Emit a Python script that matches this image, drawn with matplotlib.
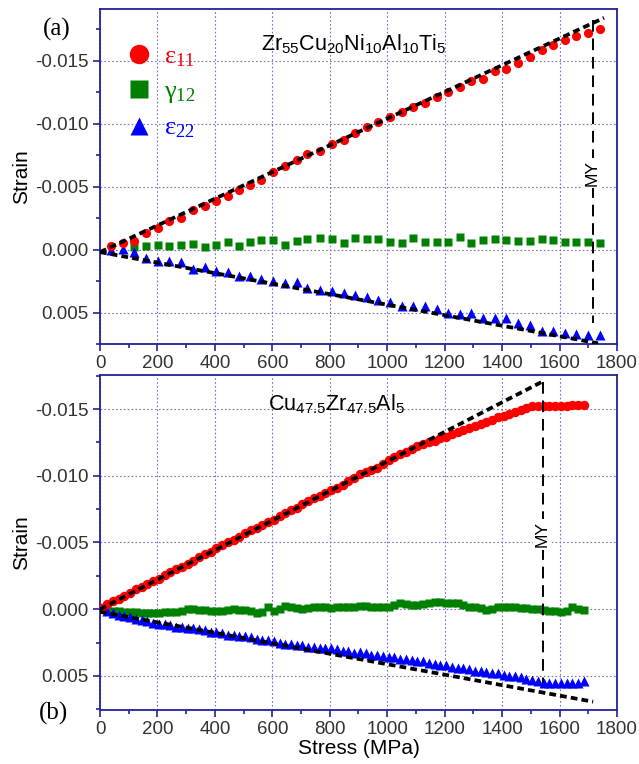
"""Strain vs stress for two metallic glasses, panels (a) and (b)."""
import matplotlib
matplotlib.use("Agg")
import matplotlib.pyplot as plt
from matplotlib.lines import Line2D
from matplotlib.ticker import MultipleLocator, FormatStrFormatter

plt.rcParams["font.family"] = ["Liberation Sans", "DejaVu Sans"]
plt.rcParams["mathtext.default"] = "regular"
plt.rcParams["axes.unicode_minus"] = False

# ---------------- panel (a): Zr55Cu20Ni10Al10Ti5 ----------------
stress_a = [38, 79, 119, 160, 201, 241, 282, 323, 366, 404, 444, 485, 522,
            561, 604, 644, 685, 720, 767, 807, 848, 888, 929, 969, 1010,
            1050, 1091, 1131, 1172, 1212, 1253, 1293, 1334, 1374, 1415,
            1455, 1497, 1538, 1578, 1619, 1659, 1700, 1741]
e11_a = [-0.00026, -0.0005, -0.00066, -0.00133, -0.0017, -0.00223, -0.0025,
         -0.00311, -0.00343, -0.00383, -0.00423, -0.0047, -0.0051, -0.0055,
         -0.00617, -0.00664, -0.0071, -0.00755, -0.00784, -0.00838, -0.0087,
         -0.00923, -0.00976, -0.01016, -0.01055, -0.01095, -0.01135,
         -0.01167, -0.01215, -0.01255, -0.0129, -0.01335, -0.01356,
         -0.01415, -0.01434, -0.01482, -0.0153, -0.01588, -0.01627,
         -0.01667, -0.01694, -0.01721, -0.01753]
g12_a = [None, None, -0.0002, -0.00026, -0.0004, -0.00026, -0.0004,
         -0.00045, -0.00018, -0.0004, -0.00064, -0.00026, -0.0006, -0.00077,
         -0.00074, -0.00035, -0.00068, -0.00082, -0.00093, -0.0008,
         -0.00053, -0.00093, -0.0008, -0.0008, -0.00064, -0.0005, -0.00093,
         -0.00058, -0.00064, -0.00058, -0.00098, -0.0005, -0.00077,
         -0.00085, -0.00077, -0.00072, -0.00072, -0.0008, -0.00074,
         -0.00064, -0.0006, -0.00058, -0.0005]
e22_a = [0.0, -0.00005, 0.00016, 0.00066, 0.00088, 0.00088, 0.00096,
         0.00154, 0.00136, 0.00173, 0.00181, 0.00213, 0.00213, 0.00234,
         0.00247, 0.00269, 0.0026, 0.00306, 0.00319, 0.00327, 0.00341,
         0.00361, 0.00373, 0.00399, 0.0042, 0.00447, 0.00452, 0.00452,
         0.00473, 0.005, 0.00513, 0.00505, 0.0054, 0.0054, 0.00545, 0.0058,
         0.00598, 0.00646, 0.00646, 0.0066, 0.00668, 0.00678, 0.00678]
fit11_a = ([0, 1755], [0.0002, -0.0184])
fit22_a = ([0, 1734], [0.0002, 0.00744])
my_a = ([1715, 1715], [-0.0182, 0.0058])
my_text_a = -0.0061

# ---------------- panel (b): Cu47.5Zr47.5Al5 ----------------
stress_b = [5, 25, 45, 65, 85, 105, 125, 145, 165, 185, 205, 225, 245, 265,
            285, 305, 325, 345, 365, 385, 405, 425, 445, 465, 485, 505, 525,
            545, 565, 585, 605, 625, 645, 665, 685, 705, 725, 745, 765, 785,
            805, 825, 845, 865, 885, 905, 925, 945, 965, 985, 1005, 1025,
            1045, 1065, 1085, 1105, 1125, 1145, 1165, 1185, 1205, 1225, 1245,
            1265, 1285, 1305, 1325, 1345, 1365, 1385, 1405, 1425, 1445, 1465,
            1485, 1505, 1525, 1545, 1565, 1585, 1605, 1625, 1645, 1665, 1685]
e11_b = [-0.0001, -0.0004, -0.0006, -0.0008, -0.0010, -0.0012, -0.0015,
         -0.0017, -0.0019, -0.0021, -0.0023, -0.0026, -0.0028, -0.0030,
         -0.0032, -0.0034, -0.0036, -0.0039, -0.0041, -0.0043, -0.0046,
         -0.0048, -0.0050, -0.0052, -0.0054, -0.0057, -0.0059, -0.0061,
         -0.0063, -0.0065, -0.0067, -0.0070, -0.0072, -0.0074, -0.0076,
         -0.0079, -0.0081, -0.0083, -0.0085, -0.0087, -0.0089, -0.0091,
         -0.0093, -0.0096, -0.0098, -0.0101, -0.0103, -0.0104, -0.0106,
         -0.0109, -0.0112, -0.0114, -0.0116, -0.0118, -0.0120, -0.0122,
         -0.0124, -0.0125, -0.0126, -0.0128, -0.0129, -0.0131, -0.0133,
         -0.0134, -0.0136, -0.0137, -0.0139, -0.0140, -0.0142, -0.0144,
         -0.0145, -0.0146, -0.0148, -0.0149, -0.0151, -0.0152, -0.0152,
         -0.0152, -0.0152, -0.0152, -0.0152, -0.0152, -0.0153, -0.0153,
         -0.0153]
g12_b = [-0.0001, 0.0, 0.0001, 0.0001, 0.0002, 0.0002, 0.0002, 0.00025,
         0.00025, 0.00025, 0.00025, 0.0002, 0.0002, 0.0002, 0.00015, 0.0,
         0.0, 0.00005, 0.00005, 0.0001, 0.0001, 0.0001, 0.00005, 0.0,
         0.00005, 0.00005, 0.0001, 0.00025, 0.0002, -0.00015, 0.00013, 0.0,
         -0.00025, -0.0002, -0.0001, 0.0, -0.0001, -0.0002, -0.0002,
         -0.00015, -0.00012, -0.00015, -0.0002, -0.0002, -0.0002, -0.00025,
         -0.00025, -0.0002, -0.00015, -0.00015, -0.0002, -0.0003, -0.00045,
         -0.0004, -0.0003, -0.0003, -0.0004, -0.0005, -0.00057, -0.00055,
         -0.0005, -0.00045, -0.00045, -0.0003, -0.0002, -0.0002, -0.0001,
         0.00005, 0.0, -0.0002, -0.0002, -0.0002, -0.00015, -0.0001,
         -0.0001, -0.00005, 0.0, 0.00005, 0.0001, 0.00015, 0.0002, 0.0001,
         -0.0002, 0.0, 0.00005]
e22_b = [-0.0001, 0.0001, 0.0003, 0.0004, 0.0005, 0.0006, 0.0007, 0.0008,
         0.0009, 0.0010, 0.0011, 0.0011, 0.0012, 0.0013, 0.0013, 0.0014,
         0.0014, 0.0015, 0.00155, 0.0017, 0.0017, 0.0018, 0.0019, 0.0019,
         0.0020, 0.0020, 0.0021, 0.0022, 0.0023, 0.0023, 0.0024, 0.00255,
         0.0026, 0.0026, 0.0027, 0.0027, 0.0028, 0.0028, 0.0029, 0.0029,
         0.0029, 0.0030, 0.0031, 0.0031, 0.0033, 0.0032, 0.0033, 0.0034,
         0.0034, 0.0035, 0.00355, 0.0036, 0.0037, 0.0037, 0.0038, 0.0039,
         0.0039, 0.0040, 0.0041, 0.00418, 0.0042, 0.0043, 0.0044, 0.0044,
         0.0045, 0.0046, 0.0046, 0.00468, 0.0048, 0.0048, 0.0049, 0.0050,
         0.0050, 0.00505, 0.0052, 0.0053, 0.0054, 0.0055, 0.0055, 0.0055,
         0.0055, 0.0055, 0.0055, 0.0055, 0.0054]
fit11_b = ([0, 1541], [0.0, -0.01706])
fit22_b = ([0, 1717], [0.0002, 0.00693])
my_b = ([1541, 1541], [-0.01706, 0.0055])
my_text_b = -0.0056

titles = [r"Zr$_{55}$Cu$_{20}$Ni$_{10}$Al$_{10}$Ti$_{5}$",
          r"Cu$_{47.5}$Zr$_{47.5}$Al$_{5}$"]
panel_tags = ["(a)", "(b)"]
legend_labels = [r"ε$_{11}$", r"γ$_{12}$", r"ε$_{22}$"]

NAVY = "#22229a"
GRID = "#7474b4"
TICKTXT = "#333333"
RED, GREEN, BLUE = "#ff0000", "#008000", "#0000ff"


def style_axes(ax, ylim):
    ax.set_xlim(0, 1800)
    ax.set_ylim(*ylim)
    ax.xaxis.set_major_locator(MultipleLocator(200))
    ax.xaxis.set_minor_locator(MultipleLocator(100))
    ax.yaxis.set_major_locator(MultipleLocator(0.005))
    ax.yaxis.set_minor_locator(MultipleLocator(0.0025))
    ax.yaxis.set_major_formatter(FormatStrFormatter("%.3f"))
    ax.grid(True, which="major", color=GRID, linestyle=(0, (1.5, 2)),
            linewidth=0.8)
    ax.set_axisbelow(True)
    for sp in ax.spines.values():
        sp.set_color(NAVY)
        sp.set_linewidth(1.3)
    ax.tick_params(which="major", direction="out", length=5, width=1.2,
                   color=NAVY, labelcolor=TICKTXT, labelsize=13.5, pad=3)
    ax.tick_params(which="minor", direction="out", length=3, width=1.2,
                   color=NAVY)
    ax.set_ylabel("Strain", fontsize=15, labelpad=3)


def draw_panel(ax, stress, e11, g12, e22, fit11, fit22, my, my_text,
               ms_c, ms_s, ms_t):
    gx = [s for s, g in zip(stress, g12) if g is not None]
    gy = [g for g in g12 if g is not None]
    ax.plot(gx, gy, "s", color=GREEN, ms=ms_s, mec="none", zorder=3)
    ax.plot(stress, e22, "^", color=BLUE, ms=ms_t, mec="none", zorder=3)
    ax.plot(stress, e11, "o", color=RED, ms=ms_c, mec="none", zorder=3)
    dash = (0, (1.8, 1.1))
    ax.plot(fit11[0], fit11[1], color="black", lw=2.7, linestyle=dash,
            zorder=4)
    ax.plot(fit22[0], fit22[1], color="black", lw=2.7, linestyle=dash,
            zorder=4)
    ax.plot(my[0], my[1], color="black", lw=1.4, linestyle=(0, (6, 3.5)),
            zorder=4)
    ax.text(my[0][0], my_text, "MY", rotation=90, ha="center",
            va="center", fontsize=12.5, zorder=5,
            bbox=dict(facecolor="white", edgecolor="none", pad=1.5))


fig = plt.figure(figsize=(6.39, 7.64), dpi=100)
ax_a = fig.add_axes([0.1565, 0.5497, 0.809, 0.4385])
ax_b = fig.add_axes([0.1565, 0.0707, 0.809, 0.4385])

style_axes(ax_a, (0.0075, -0.0191))
style_axes(ax_b, (0.00755, -0.01755))

draw_panel(ax_a, stress_a, e11_a, g12_a, e22_a, fit11_a, fit22_a,
           my_a, my_text_a, 6.6, 5.4, 7.2)
draw_panel(ax_b, stress_b, e11_b, g12_b, e22_b, fit11_b, fit22_b,
           my_b, my_text_b, 6.8, 6.2, 6.6)

ax_b.set_xlabel("Stress (MPa)", fontsize=15, labelpad=1)

ax_a.text(0.49, 0.896, titles[0], transform=ax_a.transAxes, ha="center",
          va="center", fontsize=15.5)
ax_b.text(0.458, 0.914, titles[1], transform=ax_b.transAxes, ha="center",
          va="center", fontsize=15.5)

fig.text(0.089, 0.961, panel_tags[0], family="Liberation Serif",
         fontsize=18, ha="center", va="center")
fig.text(0.083, 0.066, panel_tags[1], family="Liberation Serif",
         fontsize=18, ha="center", va="center")

handles = [Line2D([], [], marker="o", ls="none", color=RED, ms=14,
                  mec="none"),
           Line2D([], [], marker="s", ls="none", color=GREEN, ms=12.5,
                  mec="none"),
           Line2D([], [], marker="^", ls="none", color=BLUE, ms=13,
                  mec="none")]
leg = ax_a.legend(handles, legend_labels, loc="upper left",
                  bbox_to_anchor=(0.025, 0.925), frameon=False,
                  prop={"family": "Liberation Serif", "size": 19},
                  handletextpad=0.35, labelspacing=0.42, handlelength=1.2,
                  borderaxespad=0)
for txt, col in zip(leg.get_texts(), [RED, GREEN, BLUE]):
    txt.set_color(col)

fig.savefig("out.png", dpi=100)
